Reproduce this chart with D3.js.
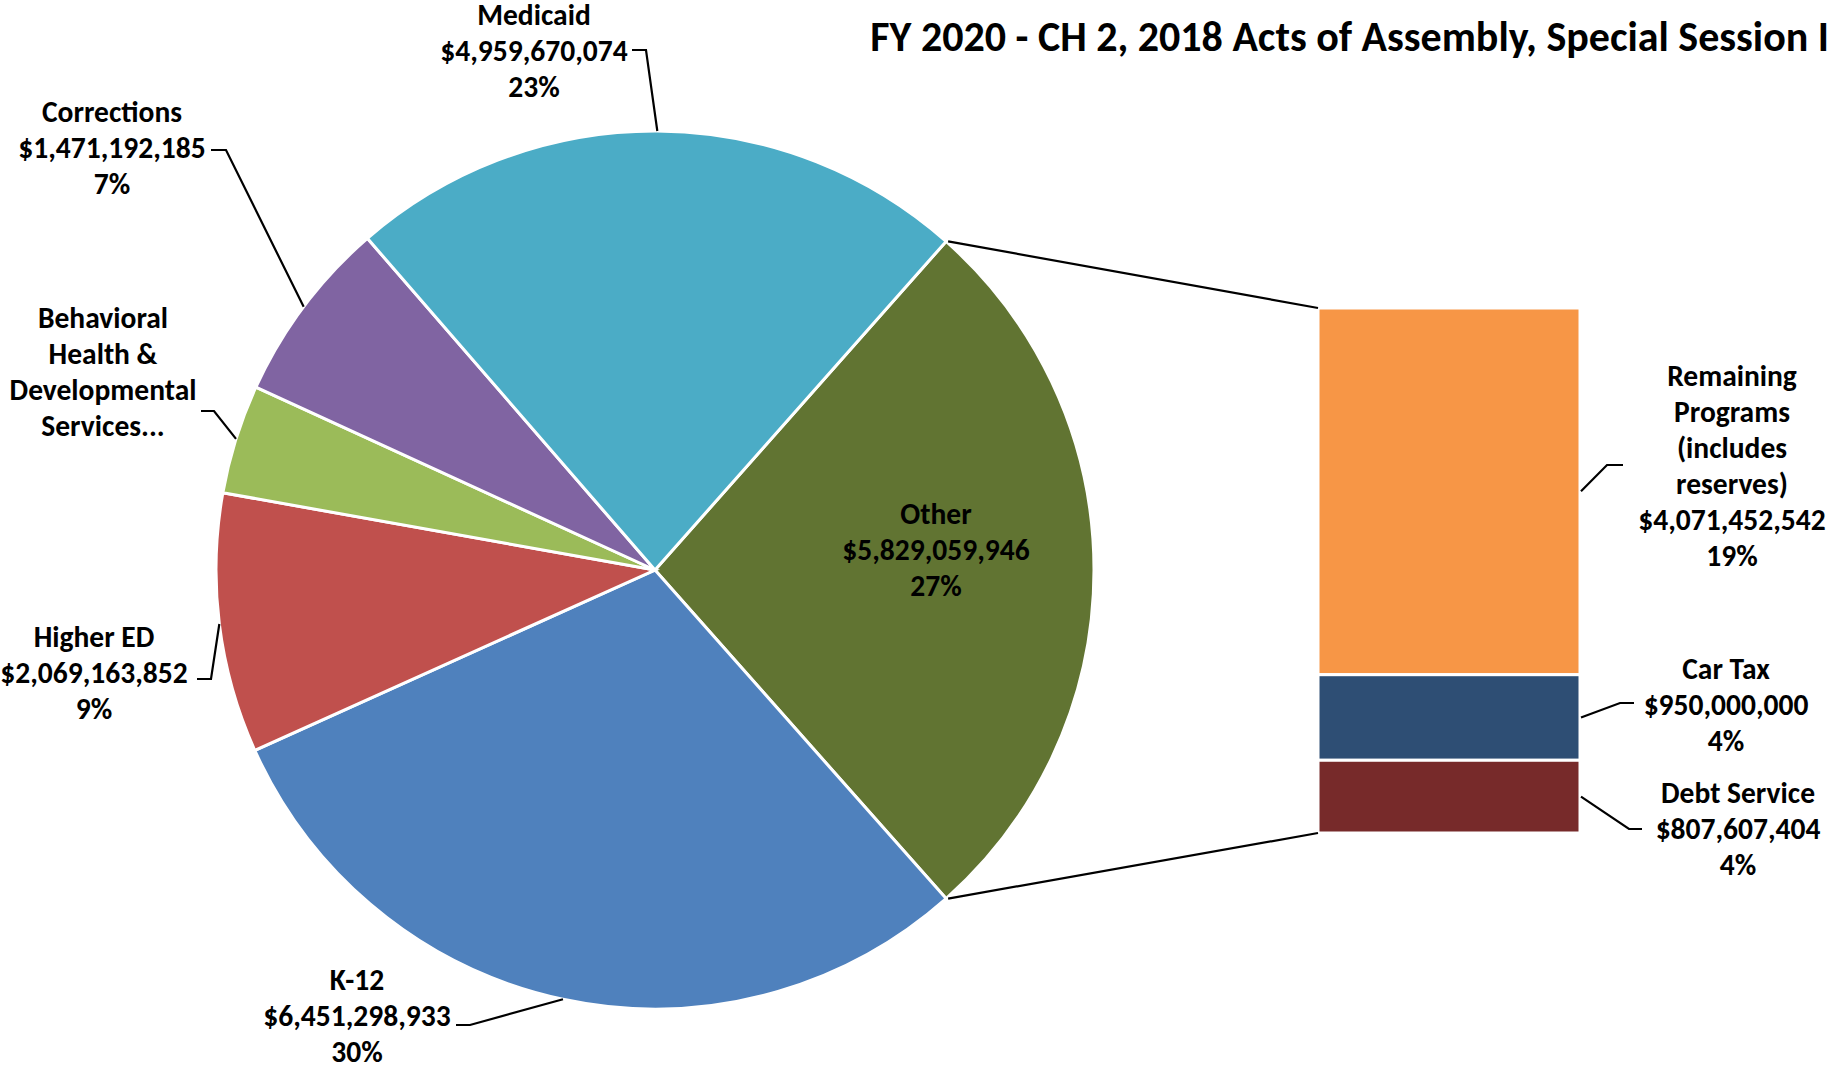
<!DOCTYPE html>
<html>
<head>
<meta charset="utf-8">
<script src="https://cdn.jsdelivr.net/npm/d3@7"></script>
<style>
  body { margin: 0; background: #fff; }
  text { font-family: Carlito, Lato, sans-serif; font-weight: bold; fill: #000; }
</style>
</head>
<body>
<div id="chart"></div>
<script>
// pie slices, clockwise starting with the "Other" slice
const pieNames = ["Other", "K-12", "Higher ED", "Behavioral Health & Developmental Services", "Corrections", "Medicaid"];
const barNames = ["Remaining Programs (includes reserves)", "Car Tax", "Debt Service"];
const barValues = [4071452542, 950000000, 807607404];
const pieValues = [d3.sum(barValues), 6451298933, 2069163852, 870000000, 1471192185, 4959670074];
// percentages as printed on the labels
const piePct = ["27%", "30%", "9%", "4%", "7%", "23%"];
const barPct = ["19%", "4%", "4%"];
const pieColors = ["#617432", "#4F81BD", "#C0504D", "#9BBB59", "#8064A2", "#4BACC6"];
const barColors = ["#F79646", "#2E4E74", "#772A2A"];
const title = "FY 2020 - CH 2, 2018 Acts of Assembly, Special Session I";

const width = 1835, height = 1066;
const cx = 655, cy = 570, r = 439;
const barX = 1318, barW = 262, barTop = 308, barBottom = 833;
const lineH = 36, fontSize = 29.5;

const fmt = d3.format("$,");

const svg = d3.select("#chart")
  .append("svg")
  .attr("width", width)
  .attr("height", height);

const total = d3.sum(pieValues);
const otherSpan = pieValues[0] / total * 2 * Math.PI;
const start = Math.PI / 2 - otherSpan / 2;

const pie = d3.pie()
  .sort(null)
  .value(d => d.value)
  .startAngle(start)
  .endAngle(start + 2 * Math.PI);

const arc = d3.arc().innerRadius(0).outerRadius(r);

const slices = pie(pieNames.map((n, i) => ({name: n, value: pieValues[i], pct: piePct[i], color: pieColors[i]})));

const arcPt = a => [cx + r * Math.sin(a), cy - r * Math.cos(a)];

const g = svg.append("g").attr("transform", `translate(${cx},${cy})`);
g.selectAll("path")
  .data(slices)
  .enter().append("path")
  .attr("d", arc)
  .attr("fill", d => d.data.color)
  .attr("stroke", "white")
  .attr("stroke-width", 3);

// second plot: stacked bar for the "Other" slice
const y = d3.scaleLinear().domain([0, pieValues[0]]).range([barTop, barBottom]);
const stack = barValues.map((v, i) => {
  const s = d3.sum(barValues.slice(0, i));
  return {name: barNames[i], value: v, pct: barPct[i], color: barColors[i], y0: s, y1: s + v};
});

svg.append("g")
  .selectAll("rect")
  .data(stack)
  .enter().append("rect")
  .attr("x", barX)
  .attr("y", d => y(d.y0))
  .attr("width", barW)
  .attr("height", d => y(d.y1) - y(d.y0))
  .attr("fill", d => d.color)
  .attr("stroke", "white")
  .attr("stroke-width", 3);

// connector lines from pie to bar
const s0 = slices[0];
const conn = [[arcPt(s0.startAngle), [barX, y(0)]], [arcPt(s0.endAngle), [barX, y(pieValues[0])]]];
svg.append("g")
  .selectAll("line")
  .data(conn)
  .enter().append("line")
  .attr("x1", d => d[0][0] + 2).attr("y1", d => d[0][1])
  .attr("x2", d => d[1][0]).attr("y2", d => d[1][1])
  .attr("stroke", "#000")
  .attr("stroke-width", 2.2);

// label layout: text centre, first line centre, leader elbow
const pieLabelPos = [
  {x: 936, y: 514, inside: true},
  {x: 357, y: 980, elbow: [[456, 1025], [470, 1025]]},
  {x: 94, y: 637, elbow: [[197, 679], [211, 679]]},
  {x: 103, y: 318, elbow: [[201, 411], [214, 411]]},
  {x: 112, y: 112, elbow: [[211, 150], [226, 150]]},
  {x: 534, y: 15, elbow: [[632, 50], [646, 50]]}
];
const barLabelPos = [
  {x: 1732, y: 376, elbow: [[1623, 465], [1607, 465]]},
  {x: 1726, y: 669, elbow: [[1634, 703], [1620, 703]]},
  {x: 1738, y: 793, elbow: [[1642, 829], [1629, 829]]}
];

const pieLines = (d, i) => i === 3
  ? ["Behavioral", "Health &", "Developmental", "Services..."]
  : [d.data.name, fmt(d.data.value), d.data.pct];
const barLines = (d, i) => i === 0
  ? ["Remaining", "Programs", "(includes", "reserves)", fmt(d.value), d.pct]
  : [d.name, fmt(d.value), d.pct];

const leader = d3.line();
const lab = svg.append("g");

slices.forEach((d, i) => {
  const p = pieLabelPos[i];
  if (!p.inside) {
    const mid = (d.startAngle + d.endAngle) / 2;
    lab.append("path")
      .attr("d", leader([...p.elbow, arcPt(mid)]))
      .attr("fill", "none").attr("stroke", "#000").attr("stroke-width", 2.2);
  }
  lab.append("text")
    .attr("text-anchor", "middle")
    .attr("font-size", fontSize)
    .selectAll("tspan")
    .data(pieLines(d, i))
    .enter().append("tspan")
    .attr("x", p.x)
    .attr("y", (t, j) => p.y + j * lineH)
    .attr("dominant-baseline", "central")
    .text(t => t);
});

stack.forEach((d, i) => {
  const p = barLabelPos[i];
  const midY = (y(d.y0) + y(d.y1)) / 2;
  lab.append("path")
    .attr("d", leader([...p.elbow, [barX + barW + 1, midY]]))
    .attr("fill", "none").attr("stroke", "#000").attr("stroke-width", 2.2);
  lab.append("text")
    .attr("text-anchor", "middle")
    .attr("font-size", fontSize)
    .selectAll("tspan")
    .data(barLines(d, i))
    .enter().append("tspan")
    .attr("x", p.x)
    .attr("y", (t, j) => p.y + j * lineH)
    .attr("dominant-baseline", "central")
    .text(t => t);
});

svg.append("text")
  .attr("x", 1829)
  .attr("y", 36)
  .attr("text-anchor", "end")
  .attr("dominant-baseline", "central")
  .attr("font-size", 42)
  .text(title);
</script>
</body>
</html>
